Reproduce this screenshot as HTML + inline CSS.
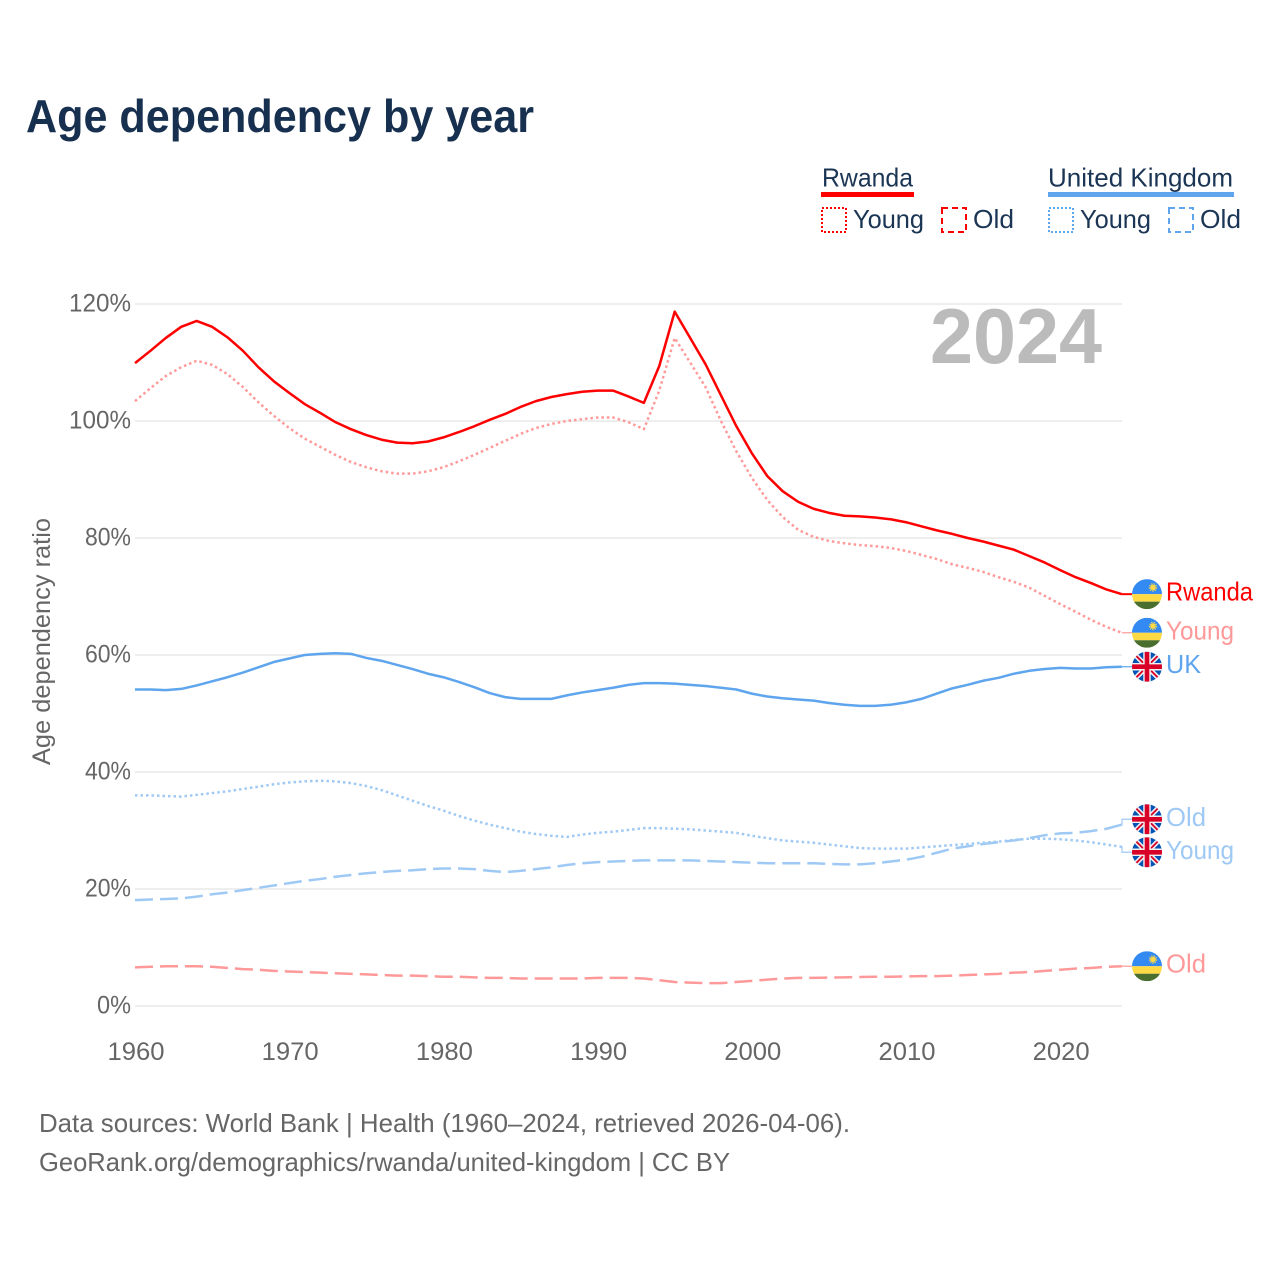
<!DOCTYPE html>
<html lang="en">
<head>
<meta charset="utf-8">
<title>Age dependency by year</title>
<style>
html,body{margin:0;padding:0;background:#fff;}
svg{display:block;}
text{font-family:"Liberation Sans",sans-serif;}
</style>
</head>
<body>
<svg id="chart" xmlns="http://www.w3.org/2000/svg" width="1280" height="1280" viewBox="0 0 1280 1280">
<defs>
<clipPath id="flag-clip"><circle cx="0" cy="0" r="15"/></clipPath>
<symbol id="flag-rw" overflow="visible" viewBox="-15 -15 30 30" width="30" height="30">
<g clip-path="url(#flag-clip)">
<rect x="-15" y="-15" width="30" height="15" fill="#338af3"/>
<rect x="-15" y="0" width="30" height="7.5" fill="#ffda44"/>
<rect x="-15" y="7.5" width="30" height="7.5" fill="#496e2d"/>
<circle cx="6" cy="-6.7" r="2.8" fill="#ffda44"/>
<circle cx="6" cy="-6.7" r="3.6" fill="none" stroke="#ffda44" stroke-width="1.2" stroke-dasharray="1.3 1.2"/>
</g>
</symbol>
<symbol id="flag-uk" overflow="visible" viewBox="-15 -15 30 30" width="30" height="30">
<g clip-path="url(#flag-clip)">
<rect x="-15" y="-15" width="30" height="30" fill="#0052b4"/>
<path d="M-15-15L15 15M-15 15L15-15" stroke="#f0f0f0" stroke-width="5"/>
<path d="M-15-15L15 15M-15 15L15-15" stroke="#d80027" stroke-width="1.8"/>
<path d="M0-15V15M-15 0H15" stroke="#f0f0f0" stroke-width="7.5"/>
<path d="M0-15V15M-15 0H15" stroke="#d80027" stroke-width="4.6"/>
</g>
</symbol>
</defs>

<rect x="0" y="0" width="1280" height="1280" fill="#ffffff"/>

<text x="26" y="132" font-size="46" font-weight="700" fill="#18304f" textLength="508" lengthAdjust="spacingAndGlyphs">Age dependency by year</text>

<g font-size="26" fill="#1b3555">
<text x="822" y="186.5" textLength="91" lengthAdjust="spacingAndGlyphs">Rwanda</text>
<rect x="821" y="192" width="93" height="5" fill="#ff0000"/>
<rect x="822" y="208" width="24" height="24" fill="none" stroke="#ff0000" stroke-width="2" stroke-dasharray="2 2"/>
<text x="853" y="228" textLength="71" lengthAdjust="spacingAndGlyphs">Young</text>
<rect x="942" y="208" width="24" height="24" fill="none" stroke="#ff0000" stroke-width="2" stroke-dasharray="6 4"/>
<text x="973" y="228" textLength="41" lengthAdjust="spacingAndGlyphs">Old</text>
<text x="1048" y="186.5" textLength="185" lengthAdjust="spacingAndGlyphs">United Kingdom</text>
<rect x="1048" y="192" width="186" height="5" fill="#5ea5ee"/>
<rect x="1049" y="208" width="24" height="24" fill="none" stroke="#5ea5ee" stroke-width="2" stroke-dasharray="2 2"/>
<text x="1080" y="228" textLength="71" lengthAdjust="spacingAndGlyphs">Young</text>
<rect x="1169" y="208" width="24" height="24" fill="none" stroke="#5ea5ee" stroke-width="2" stroke-dasharray="6 4"/>
<text x="1200" y="228" textLength="41" lengthAdjust="spacingAndGlyphs">Old</text>
</g>

<g id="grid"></g>
<g id="y-ticks"></g>
<g id="x-ticks"></g>

<text transform="translate(50,765) rotate(-90)" x="0" y="0" font-size="25" fill="#666666" textLength="247" lengthAdjust="spacingAndGlyphs">Age dependency ratio</text>

<text x="930" y="363" font-size="78" font-weight="700" fill="#bbbbbb" textLength="172" lengthAdjust="spacingAndGlyphs">2024</text>

<g id="series"></g>
<g id="end-labels"></g>

<text x="39" y="1132" font-size="26" fill="#666666" textLength="811" lengthAdjust="spacingAndGlyphs">Data sources: World Bank | Health (1960–2024, retrieved 2026-04-06).</text>
<text x="39" y="1171" font-size="26" fill="#666666" textLength="691" lengthAdjust="spacingAndGlyphs">GeoRank.org/demographics/rwanda/united-kingdom | CC BY</text>
</svg>

<script>
var firstYear = 1960;
var xTickYears = [1960, 1970, 1980, 1990, 2000, 2010, 2020];
var yTickValues = [0, 20, 40, 60, 80, 100, 120];

var rwandaTotal = [109.9,112,114.2,116.1,117.1,116.1,114.3,112,109.2,106.8,104.8,102.9,101.4,99.8,98.6,97.6,96.8,96.3,96.2,96.5,97.2,98.1,99.1,100.2,101.2,102.4,103.4,104.1,104.6,105,105.2,105.2,104.2,103.1,109.4,118.7,114.2,109.7,104.4,99.1,94.5,90.6,88,86.2,85,84.3,83.8,83.7,83.5,83.2,82.7,82,81.3,80.7,80,79.4,78.7,78,76.9,75.8,74.5,73.3,72.3,71.2,70.4];
var rwandaYoung = [103.4,105.6,107.7,109.2,110.3,109.6,108,105.8,103.2,100.9,98.8,97,95.6,94.2,93,92.1,91.4,91,91,91.4,92.1,93.1,94.2,95.4,96.6,97.8,98.8,99.5,100,100.3,100.6,100.6,99.8,98.6,105.2,114.2,110,105.8,100,94.8,90.3,86.5,83.6,81.4,80.2,79.5,79.1,78.8,78.6,78.3,77.8,77.1,76.4,75.5,74.9,74.2,73.3,72.5,71.5,70.1,68.7,67.4,66,64.8,63.8];
var rwandaOld = [6.6,6.7,6.8,6.8,6.8,6.7,6.5,6.3,6.2,6,5.9,5.8,5.7,5.6,5.5,5.4,5.3,5.2,5.2,5.1,5,5,4.9,4.8,4.8,4.7,4.7,4.7,4.7,4.7,4.8,4.8,4.8,4.7,4.4,4.1,4,3.9,3.9,4.1,4.3,4.5,4.7,4.8,4.8,4.85,4.9,4.95,5,5,5.05,5.1,5.1,5.2,5.3,5.4,5.5,5.7,5.8,6,6.2,6.4,6.5,6.7,6.8];
var ukTotal = [54.1,54.1,54,54.2,54.8,55.5,56.2,57,57.9,58.8,59.4,60,60.2,60.3,60.2,59.5,59,58.3,57.6,56.8,56.2,55.4,54.5,53.5,52.8,52.5,52.5,52.5,53.1,53.6,54,54.4,54.9,55.2,55.2,55.1,54.9,54.7,54.4,54.1,53.4,52.9,52.6,52.4,52.2,51.8,51.5,51.3,51.3,51.5,51.9,52.5,53.4,54.3,54.9,55.6,56.1,56.8,57.3,57.6,57.8,57.7,57.7,57.9,58];
var ukYoung = [36,36,35.9,35.8,36.1,36.4,36.7,37.1,37.5,37.9,38.2,38.4,38.5,38.4,38.1,37.6,36.9,36,35.1,34.2,33.4,32.5,31.7,31,30.4,29.8,29.4,29.1,28.9,29.3,29.6,29.8,30.1,30.4,30.4,30.3,30.2,30,29.8,29.6,29.1,28.7,28.3,28.1,27.9,27.6,27.3,27,26.9,26.9,26.9,27.1,27.3,27.5,27.7,27.9,28.1,28.4,28.6,28.6,28.5,28.3,28,27.6,27.2];
var ukOld = [18.1,18.2,18.3,18.4,18.7,19.1,19.4,19.8,20.2,20.6,21,21.4,21.7,22.1,22.4,22.7,22.9,23.1,23.2,23.4,23.5,23.5,23.4,23.1,22.9,23.1,23.4,23.7,24.1,24.4,24.6,24.7,24.8,24.9,24.9,24.9,24.9,24.8,24.7,24.6,24.5,24.4,24.4,24.4,24.4,24.3,24.2,24.2,24.4,24.7,25,25.5,26.2,26.9,27.3,27.7,28,28.3,28.7,29.2,29.5,29.6,29.9,30.3,31];

var NS = 'http://www.w3.org/2000/svg';
var PLOT_LEFT = 135, PX_PER_YEAR = 15.42, PLOT_RIGHT = 1122;
var Y_ZERO = 1006, PX_PER_PCT = 5.85;
var LABEL_GAP = 33, FLAG_X = 1147;

function xScale(year) { return PLOT_LEFT + (year - firstYear) * PX_PER_YEAR; }
function yScale(value) { return Y_ZERO - value * PX_PER_PCT; }

function make(tag, attrs, parent) {
  var el = document.createElementNS(NS, tag);
  for (var k in attrs) { el.setAttribute(k, attrs[k]); }
  parent.appendChild(el);
  return el;
}

var gridGroup = document.getElementById('grid');
var yGroup = document.getElementById('y-ticks');
var xGroup = document.getElementById('x-ticks');
var seriesGroup = document.getElementById('series');
var labelGroup = document.getElementById('end-labels');

yTickValues.forEach(function (v) {
  var line = make('line', {x1: PLOT_LEFT, x2: PLOT_RIGHT, y1: yScale(v), y2: yScale(v), stroke: '#eeeeee', 'stroke-width': 2}, gridGroup);
  
  
  var label = v + '%';
  var t = make('text', {x: 131, y: yScale(v) + 7.5, 'text-anchor': 'end', 'font-size': 25, fill: '#666666', textLength: 14 + 16 * String(v).length + (v === 0 ? 4 : 0), lengthAdjust: 'spacingAndGlyphs'}, yGroup);
  t.textContent = label;
  
  
});

xTickYears.forEach(function (yr) {
  var t = make('text', {x: xScale(yr) + 1, y: 1060, 'text-anchor': 'middle', 'font-size': 25, fill: '#666666', textLength: 57, lengthAdjust: 'spacingAndGlyphs'}, xGroup);
  t.textContent = String(yr);
  
  
});

var seriesDefs = [
  {key: 'rwanda-old', values: rwandaOld, color: '#ff9999', dash: '18 7', label: 'Old', flag: 'flag-rw', w: 40},
  {key: 'rwanda-young', values: rwandaYoung, color: '#ff9999', dash: '2.5 3', label: 'Young', flag: 'flag-rw', w: 68},
  {key: 'uk-old', values: ukOld, color: '#9fc9f5', dash: '18 7', label: 'Old', flag: 'flag-uk', w: 40},
  {key: 'uk-young', values: ukYoung, color: '#9fc9f5', dash: '2.5 3', label: 'Young', flag: 'flag-uk', w: 68},
  {key: 'uk-total', values: ukTotal, color: '#5ea5ee', dash: '', label: 'UK', flag: 'flag-uk', w: 35},
  {key: 'rwanda-total', values: rwandaTotal, color: '#ff0000', dash: '', label: 'Rwanda', flag: 'flag-rw', w: 87}
];

/* Resolve end-label collisions: keep labels at least LABEL_GAP apart */
var slots = seriesDefs.map(function (s) {
  var endY = yScale(s.values[s.values.length - 1]);
  return {def: s, endY: endY, y: endY};
}).sort(function (a, b) { return a.endY - b.endY; });

var clusters = [];
slots.forEach(function (slot) {
  var c = {items: [slot], sum: slot.endY};
  clusters.push(c);
  while (clusters.length > 1) {
    var cur = clusters[clusters.length - 1], prev = clusters[clusters.length - 2];
    var prevMean = prev.sum / prev.items.length, curMean = cur.sum / cur.items.length;
    var prevBottom = prevMean + (prev.items.length - 1) * LABEL_GAP / 2;
    var curTop = curMean - (cur.items.length - 1) * LABEL_GAP / 2;
    if (curTop - prevBottom >= LABEL_GAP) { break; }
    prev.items = prev.items.concat(cur.items);
    prev.sum += cur.sum;
    clusters.pop();
  }
});
clusters.forEach(function (c) {
  var mean = c.sum / c.items.length;
  c.items.forEach(function (item, i) {
    item.y = mean + (i - (c.items.length - 1) / 2) * LABEL_GAP;
  });
});

seriesDefs.forEach(function (s) {
  var pts = s.values.map(function (v, i) {
    return xScale(firstYear + i).toFixed(2) + ',' + yScale(v).toFixed(2);
  }).join(' ');
  var attrs = {points: pts, fill: 'none', stroke: s.color, 'stroke-width': 2.5, 'stroke-linejoin': 'round'};
  if (s.dash) { attrs['stroke-dasharray'] = s.dash; }
  var line = make('polyline', attrs, seriesGroup);
  
  
});

slots.forEach(function (slot) {
  var s = slot.def;
  var lastX = xScale(firstYear + s.values.length - 1);
  var d = 'M' + lastX + ' ' + slot.endY + 'H1122V' + slot.y + 'H1132';
  var conn = make('path', {d: d, fill: 'none', stroke: s.color, 'stroke-width': s.color === '#ff0000' ? 2 : 1.2}, labelGroup);
  
  
  var flag = make('use', {href: '#' + s.flag, x: FLAG_X - 15, y: slot.y - 15, width: 30, height: 30}, labelGroup);
  
  
  var t = make('text', {x: 1166, y: slot.y + 6.5, 'font-size': 26, fill: s.color, textLength: s.w, lengthAdjust: 'spacingAndGlyphs'}, labelGroup);
  t.textContent = s.label;
  
  
});
</script>
</body>
</html>
